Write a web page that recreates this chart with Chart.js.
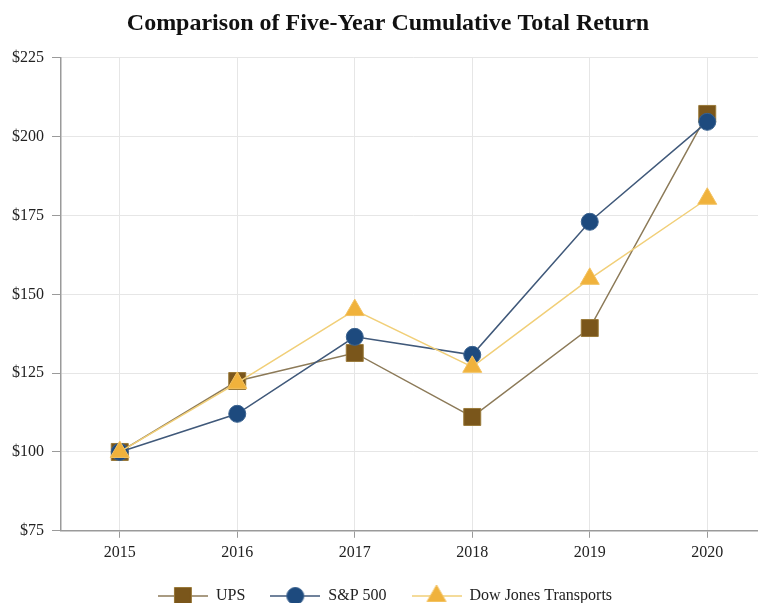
<!DOCTYPE html>
<html>
<head>
<meta charset="utf-8">
<script src="https://cdn.jsdelivr.net/npm/chart.js@4.4.1/dist/chart.umd.min.js"></script>
<style>
  html, body { margin: 0; padding: 0; background: #ffffff; overflow: hidden; }
  #wrap { position: relative; width: 758px; height: 603px; overflow: hidden; }
  #box { position: absolute; left: 0; top: 0; width: 780px; height: 618px; }
</style>
</head>
<body>
<div id="wrap"><div id="box"><canvas id="c" width="780" height="618"></canvas></div></div>
<script>
const categories = ['2015', '2016', '2017', '2018', '2019', '2020'];
const upsValues = [100, 122.5, 131.4, 111.1, 139.3, 207.2];
const spValues = [100, 112.1, 136.5, 130.8, 173.0, 204.7];
const djtValues = [100, 121.9, 145.0, 127.0, 154.9, 180.3];
const yTickValues = [75, 100, 125, 150, 175, 200, 225];
const seriesNames = ['UPS', 'S&P 500', 'Dow Jones Transports'];
const titleText = 'Comparison of Five-Year Cumulative Total Return';

const SERIF = '"Liberation Serif", "Times New Roman", serif';
const styles = [
  { point: 'rect', radius: 12, fill: '#7a561b', border: '#9a7a3a', line: '#8c7a58' },
  { point: 'circle', radius: 8.5, fill: '#1d4a7e', border: '#3a628f', line: '#40597a' },
  { point: 'triangle', radius: 11, fill: '#f0b23c', border: '#f3c261', line: '#f1cf78' }
];

function legendIcon(s) {
  const cv = document.createElement('canvas');
  cv.width = 50; cv.height = 26;
  const ctx = cv.getContext('2d');
  ctx.strokeStyle = s.line; ctx.lineWidth = 1.5;
  ctx.beginPath(); ctx.moveTo(0, 13); ctx.lineTo(50, 13); ctx.stroke();
  ctx.fillStyle = s.fill; ctx.strokeStyle = s.border; ctx.lineWidth = 1;
  Chart.helpers.drawPoint(ctx, { pointStyle: s.point, radius: s.radius, rotation: 0, borderWidth: 1 }, 25, 13);
  return cv;
}

const adjustBlocks = {
  id: 'adjustBlocks',
  afterLayout(chart) {
    const t = chart.titleBlock;
    if (t) {
      const d = 388 - (t.left + t.right) / 2;
      t.left += d; t.right += d;
      t.top -= 2; t.bottom -= 2;
    }
    const l = chart.legend;
    if (l) { l.top -= 4; l.bottom -= 4; }
  }
};

const values = [upsValues, spValues, djtValues];
const datasets = values.map((v, i) => ({
  label: seriesNames[i],
  data: v,
  order: 2 - i,
  borderColor: styles[i].line,
  borderWidth: 1.5,
  backgroundColor: styles[i].fill,
  pointStyle: styles[i].point,
  pointRadius: styles[i].radius,
  pointHoverRadius: styles[i].radius,
  pointBackgroundColor: styles[i].fill,
  pointBorderColor: styles[i].border,
  pointBorderWidth: 1,
  tension: 0,
  fill: false
}));

new Chart(document.getElementById('c'), {
  type: 'line',
  data: { labels: categories, datasets: datasets },
  plugins: [adjustBlocks],
  options: {
    responsive: false,
    animation: false,
    layout: { padding: { left: 4, right: 14, top: 11, bottom: 0 } },
    plugins: {
      tooltip: { enabled: false },
      title: {
        display: true,
        text: titleText,
        color: '#111111',
        font: { family: SERIF, size: 24, weight: 'bold' },
        padding: { top: 0, bottom: 18 }
      },
      legend: {
        position: 'bottom',
        labels: {
          usePointStyle: true,
          pointStyleWidth: 50,
          padding: 25,
          color: '#222222',
          font: { family: SERIF, size: 16 },
          sort: (a, b) => a.datasetIndex - b.datasetIndex,
          generateLabels(chart) {
            const items = Chart.defaults.plugins.legend.labels.generateLabels(chart);
            return items.map(it => Object.assign(it, { pointStyle: legendIcon(styles[it.datasetIndex]) }));
          }
        }
      }
    },
    scales: {
      x: {
        type: 'category',
        offset: true,
        grid: { color: '#e6e6e6', tickColor: '#9a9a9a', tickLength: 7, offset: false },
        border: { color: '#9a9a9a', width: 1.5 },
        ticks: { color: '#222222', font: { family: SERIF, size: 16 }, padding: 5 }
      },
      y: {
        min: 75,
        max: 225,
        afterBuildTicks(axis) { axis.ticks = yTickValues.map(v => ({ value: v })); },
        grid: { color: '#e6e6e6', tickColor: '#9a9a9a', tickLength: 9 },
        border: { color: '#9a9a9a', width: 1.5 },
        ticks: {
          color: '#222222',
          font: { family: SERIF, size: 16 },
          padding: 8,
          callback: v => '$' + v
        }
      }
    }
  }
});
</script>
</body>
</html>
